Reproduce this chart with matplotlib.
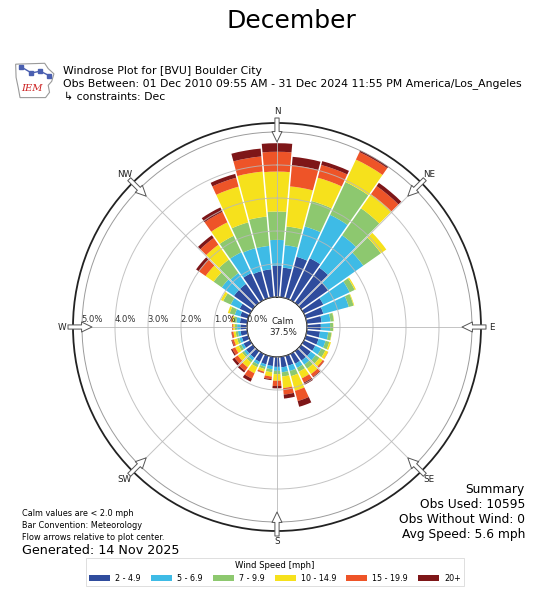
import numpy as np
import matplotlib
matplotlib.use("Agg")
import matplotlib.pyplot as plt
from matplotlib.patches import FancyArrowPatch, Polygon
from matplotlib.transforms import offset_copy

# ---- data -----------------------------------------------------------------
directions = np.arange(0, 360, 10)          # bar centres, degrees from north
speed_bins = ["2 - 4.9", "5 - 6.9", "7 - 9.9", "10 - 14.9", "15 - 19.9", "20+"]
bin_colors = ["#2f4c9d", "#3ebbe6", "#8dc86f", "#f6e11c", "#ee5428", "#7e1618"]

# frequency (% of observations) per direction for each speed bin
pct_2_5 = [0.95, 0.90, 1.30, 1.40, 1.30, 1.00, 0.65, 0.55, 0.45, 0.42, 0.40, 0.40,
           0.38, 0.36, 0.35, 0.33, 0.31, 0.32, 0.30, 0.28, 0.27, 0.27, 0.25, 0.25,
           0.22, 0.20, 0.20, 0.20, 0.22, 0.25, 0.35, 0.70, 0.70, 0.90, 0.85, 0.85]
pct_5_7 = [0.78, 0.68, 0.95, 1.45, 1.20, 1.30, 0.88, 0.80, 0.27, 0.28, 0.25, 0.22,
           0.20, 0.18, 0.15, 0.14, 0.17, 0.15, 0.12, 0.10, 0.08, 0.09, 0.09, 0.08,
           0.08, 0.08, 0.08, 0.10, 0.11, 0.17, 0.30, 0.45, 0.40, 0.70, 0.72, 0.71]
pct_7_10 = [0.86, 0.57, 0.80, 1.10, 1.00, 0.65, 0.17, 0.15, 0.10, 0.09, 0.10, 0.12,
            0.14, 0.14, 0.15, 0.13, 0.16, 0.13, 0.10, 0.09, 0.07, 0.09, 0.08, 0.07,
            0.08, 0.07, 0.07, 0.07, 0.09, 0.16, 0.25, 0.30, 0.50, 0.55, 0.81, 0.89]
pct_10_15 = [1.21, 1.22, 0.73, 0.75, 0.52, 0.20, 0.04, 0.02, 0.01, 0.01, 0.01, 0.05,
             0.09, 0.12, 0.20, 0.22, 0.46, 0.35, 0.20, 0.13, 0.08, 0.20, 0.18, 0.16,
             0.12, 0.10, 0.07, 0.05, 0.05, 0.06, 0.08, 0.30, 0.55, 0.45, 1.12, 1.37]
pct_15_20 = [0.60, 0.64, 0.40, 0.25, 0.30, 0.00, 0.00, 0.00, 0.00, 0.00, 0.00, 0.00,
             0.01, 0.05, 0.10, 0.14, 0.32, 0.20, 0.16, 0.08, 0.04, 0.18, 0.13, 0.12,
             0.10, 0.06, 0.05, 0.03, 0.03, 0.00, 0.00, 0.25, 0.25, 0.35, 0.28, 0.46]
pct_20_up = [0.26, 0.26, 0.12, 0.05, 0.12, 0.00, 0.00, 0.00, 0.00, 0.00, 0.00, 0.00,
             0.00, 0.01, 0.02, 0.07, 0.18, 0.12, 0.07, 0.03, 0.01, 0.10, 0.06, 0.08,
             0.04, 0.02, 0.01, 0.00, 0.00, 0.00, 0.00, 0.10, 0.10, 0.15, 0.12, 0.24]
series = [pct_2_5, pct_5_7, pct_7_10, pct_10_15, pct_15_20, pct_20_up]

calm_pct = 37.5
ring_ticks = [0, 1, 2, 3, 4, 5]
compass_labels = ["N", "NE", "E", "SE", "S", "SW", "W", "NW"]
compass_angles = [0, 45, 90, 135, 180, 225, 270, 315]

summary_lines = ["Summary", "Obs Used: 10595", "Obs Without Wind: 0",
                 "Avg Speed: 5.6 mph"]
note_lines = ["Calm values are < 2.0 mph", "Bar Convention: Meteorology",
              "Flow arrows relative to plot center."]

# ---- figure ----------------------------------------------------------------
W, H = 546, 592
fig = plt.figure(figsize=(W / 100, H / 100), dpi=100)
fig.patch.set_facecolor("white")


def fx(px):
    return px / W


def fy(py):
    return 1 - py / H


fig.text(fx(291), fy(21), "December", ha="center", va="center", fontsize=18)

# header
fig.text(fx(63), fy(71), "Windrose Plot for [BVU] Boulder City",
         fontsize=7.8, va="center")
fig.text(fx(63), fy(84),
         "Obs Between: 01 Dec 2010 09:55 AM - 31 Dec 2024 11:55 PM America/Los_Angeles",
         fontsize=7.8, va="center")
fig.text(fx(64), fy(97), "\u21b3 constraints: Dec", fontsize=7.8, va="center")

# small IEM logo
lax = fig.add_axes([fx(13), fy(102), fx(44), 44 / H])
lax.set_xlim(0, 1)
lax.set_ylim(0, 1)
lax.axis("off")
outline = [(0.06, 0.86), (0.72, 0.88), (0.80, 0.76), (0.93, 0.64), (0.88, 0.47),
           (0.80, 0.38), (0.83, 0.22), (0.74, 0.10), (0.16, 0.10), (0.12, 0.32),
           (0.07, 0.56)]
lax.add_patch(Polygon(outline, closed=True, fc="white", ec="#9a9a9a", lw=0.8))
lax.plot([0.18, 0.42, 0.62, 0.82], [0.80, 0.66, 0.70, 0.60], color="#4a5fb0", lw=1.0)
lax.plot([0.18, 0.42, 0.62, 0.82], [0.80, 0.66, 0.70, 0.60], "s", color="#4a5fb0", ms=2.2)
lax.text(0.42, 0.30, "IEM", color="#cc2222", fontsize=7.2, style="italic",
         family="DejaVu Serif", ha="center", va="center")

# ---- wind rose ---------------------------------------------------------------
R_FRAME = 204.0     # px, outer frame radius
R_CALM = 30.0       # px, calm circle radius
PX_PER_PCT = 33.0
r_origin = R_CALM / PX_PER_PCT
r_max = R_FRAME / PX_PER_PCT - r_origin

cx, cy = 277, 327
ax = fig.add_axes([fx(cx - R_FRAME), fy(cy + R_FRAME), 2 * R_FRAME / W, 2 * R_FRAME / H],
                  projection="polar")
ax.set_theta_zero_location("N")
ax.set_theta_direction(-1)
ax.set_rorigin(-r_origin)
ax.set_ylim(0, r_max)

theta = np.deg2rad(directions)
width = np.deg2rad(10)
bottom = np.zeros(len(directions))
handles = []
for vals, col, lab in zip(series, bin_colors, speed_bins):
    vals = np.asarray(vals)
    bars = ax.bar(theta, vals, width=width, bottom=bottom, color=col,
                  edgecolor="none", linewidth=0, label=lab, zorder=1)
    handles.append(bars)
    bottom = bottom + vals

# thin white separators between neighbouring bars
tops = bottom
for i in range(len(directions)):
    j = (i + 1) % len(directions)
    t = theta[i] + width / 2
    ax.plot([t, t], [0, max(tops[i], tops[j]) + 0.02], color="white", lw=1.1,
            zorder=1.5, solid_capstyle="butt")

ax.set_axisbelow(False)
ax.set_rgrids(ring_ticks, labels=[""] * len(ring_ticks))
ax.set_thetagrids(compass_angles, labels=[""] * len(compass_angles))
ax.grid(True, color="#b9b9b9", lw=0.7, alpha=0.85)
ax.yaxis.get_gridlines()[-1].set_color("#8a8a8a")
ax.tick_params(axis="both", length=0, pad=0)
for name, sp in ax.spines.items():
    if name == "polar":
        sp.set_linewidth(1.3)
        sp.set_color("#222222")
    else:
        sp.set_visible(False)

# ring labels, drawn along the west axis
lab_tr = offset_copy(ax.transData, fig=fig, x=10.5 * 0.72, y=7 * 0.72, units="points")
for p in ring_ticks:
    ax.text(np.deg2rad(270), p, f"{p:.1f}%", transform=lab_tr, ha="center",
            va="center", fontsize=6.1, color="#333333", zorder=4)

# compass labels and inward flow arrows
lab_r = (215 - R_CALM) / PX_PER_PCT
tail_r = (209 - R_CALM) / PX_PER_PCT
tip_r = (185 - R_CALM) / PX_PER_PCT
for ang, lab in zip(compass_angles, compass_labels):
    t = np.deg2rad(ang)
    ax.text(t, lab_r, lab, ha="center", va="center", fontsize=6.3,
            color="#222222", clip_on=False)
    arr = FancyArrowPatch(posA=(t, tail_r), posB=(t, tip_r), transform=ax.transData,
                          arrowstyle="simple,head_length=0.75,head_width=0.72,tail_width=0.3",
                          mutation_scale=10, fc="white", ec="#555555", lw=0.7,
                          shrinkA=0, shrinkB=0, clip_on=False, zorder=6)
    ax.add_patch(arr)

ax.text(0.515, 0.5, f"Calm\n{calm_pct:.1f}%", transform=ax.transAxes, ha="center",
        va="center", fontsize=6.3, color="#222222", linespacing=1.15, zorder=5)

# ---- annotations -------------------------------------------------------------
for k, line in enumerate(summary_lines):
    fig.text(fx(525), fy(489 + 15.3 * k), line, ha="right", va="center", fontsize=8.8)

for k, line in enumerate(note_lines):
    fig.text(fx(22), fy(514 + 11.5 * k), line, ha="left", va="center", fontsize=5.9)
fig.text(fx(22), fy(551), "Generated: 14 Nov 2025", ha="left", va="center",
         fontsize=9.2)

leg = fig.legend(handles=handles, labels=speed_bins, loc="center",
                 bbox_to_anchor=(fx(275), fy(572)), ncol=6, title="Wind Speed [mph]",
                 fontsize=5.8, title_fontsize=6.1, handlelength=2.6, handleheight=0.7,
                 handletextpad=0.6, columnspacing=1.3, frameon=True, fancybox=False,
                 edgecolor="#d0d0d0", borderpad=0.4)
leg.get_frame().set_linewidth(0.6)

fig.savefig("out.png", dpi=100)
